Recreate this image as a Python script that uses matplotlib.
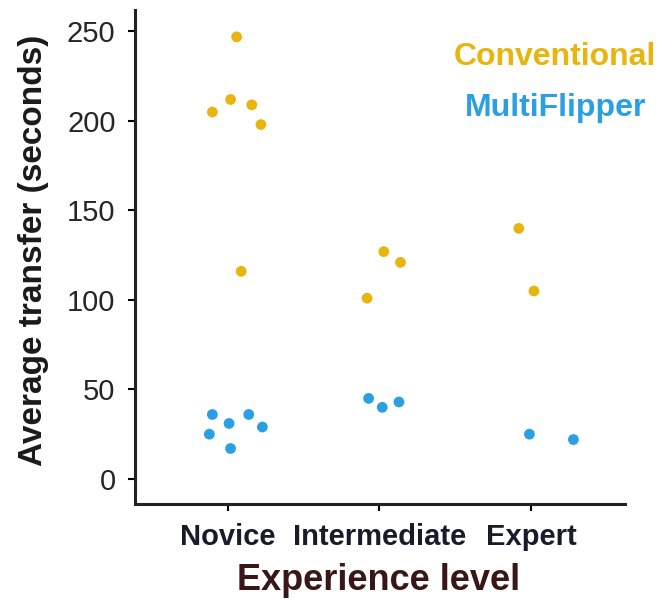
import matplotlib
matplotlib.use("Agg")
import matplotlib.pyplot as plt

# experience levels on the x axis
levels = ["Novice", "Intermediate", "Expert"]

# average transfer time (seconds)
novice_conv = [247, 212, 209, 205, 198, 116]
novice_multi = [36, 36, 31, 29, 25, 17]
inter_conv = [127, 121, 101]
inter_multi = [45, 40, 43]
expert_conv = [140, 105]
expert_multi = [25, 22]

# horizontal jitter of each dot within its category
novice_conv_jit = [0.06, 0.02, 0.16, -0.10, 0.22, 0.09]
novice_multi_jit = [-0.10, 0.14, 0.01, 0.23, -0.12, 0.02]
inter_conv_jit = [0.03, 0.14, -0.08]
inter_multi_jit = [-0.07, 0.02, 0.13]
expert_conv_jit = [-0.08, 0.02]
expert_multi_jit = [-0.01, 0.28]

conv_color = "#E8B50E"
multi_color = "#2B9FE3"


def main():
	plt.rcParams["font.family"] = ["Liberation Sans", "DejaVu Sans"]
	fig = plt.figure(figsize=(6.67, 5.99), dpi=100)
	ax = fig.add_axes([0.2024, 0.1586, 0.7346, 0.8247])

	groups = [
		(novice_conv, novice_conv_jit, novice_multi, novice_multi_jit),
		(inter_conv, inter_conv_jit, inter_multi, inter_multi_jit),
		(expert_conv, expert_conv_jit, expert_multi, expert_multi_jit),
	]
	for i, (cv, cj, mv, mj) in enumerate(groups):
		pos = i + 1
		ax.scatter([pos + j for j in cj], cv, s=60, color=conv_color, edgecolors="none", zorder=3)
		ax.scatter([pos + j for j in mj], mv, s=60, color=multi_color, edgecolors="none", zorder=3)

	ax.set_xlim(0.39, 3.62)
	ax.set_ylim(-14, 262)
	ax.set_xticks([1, 2, 3])
	ax.set_xticklabels(levels, fontsize=21, fontweight="bold", color="#1a1a2a")
	ax.set_yticks([0, 50, 100, 150, 200, 250])
	ax.tick_params(axis="y", labelsize=21, labelcolor="#262626", length=5, width=1.5, pad=9)
	ax.tick_params(axis="x", length=5, width=1.5, pad=9)

	for side in ["top", "right"]:
		ax.spines[side].set_visible(False)
	for side in ["left", "bottom"]:
		ax.spines[side].set_linewidth(2.2)
		ax.spines[side].set_color("#222222")

	ax.set_ylabel("Average transfer (seconds)", fontsize=24, fontweight="bold", color="#1a1a1a")
	ax.yaxis.set_label_coords(-0.175, 0.514)
	ax.set_xlabel("Experience level", fontsize=26, fontweight="bold", color="#3a1717")
	ax.xaxis.set_label_coords(0.497, -0.12)

	ax.text(0.857, 0.905, "Conventional", transform=ax.transAxes, ha="center", va="center",
		fontsize=23, fontweight="bold", color=conv_color)
	ax.text(0.859, 0.802, "MultiFlipper", transform=ax.transAxes, ha="center", va="center",
		fontsize=23, fontweight="bold", color=multi_color)

	fig.savefig("out.png", dpi=100)


if __name__ == "__main__":
	main()
